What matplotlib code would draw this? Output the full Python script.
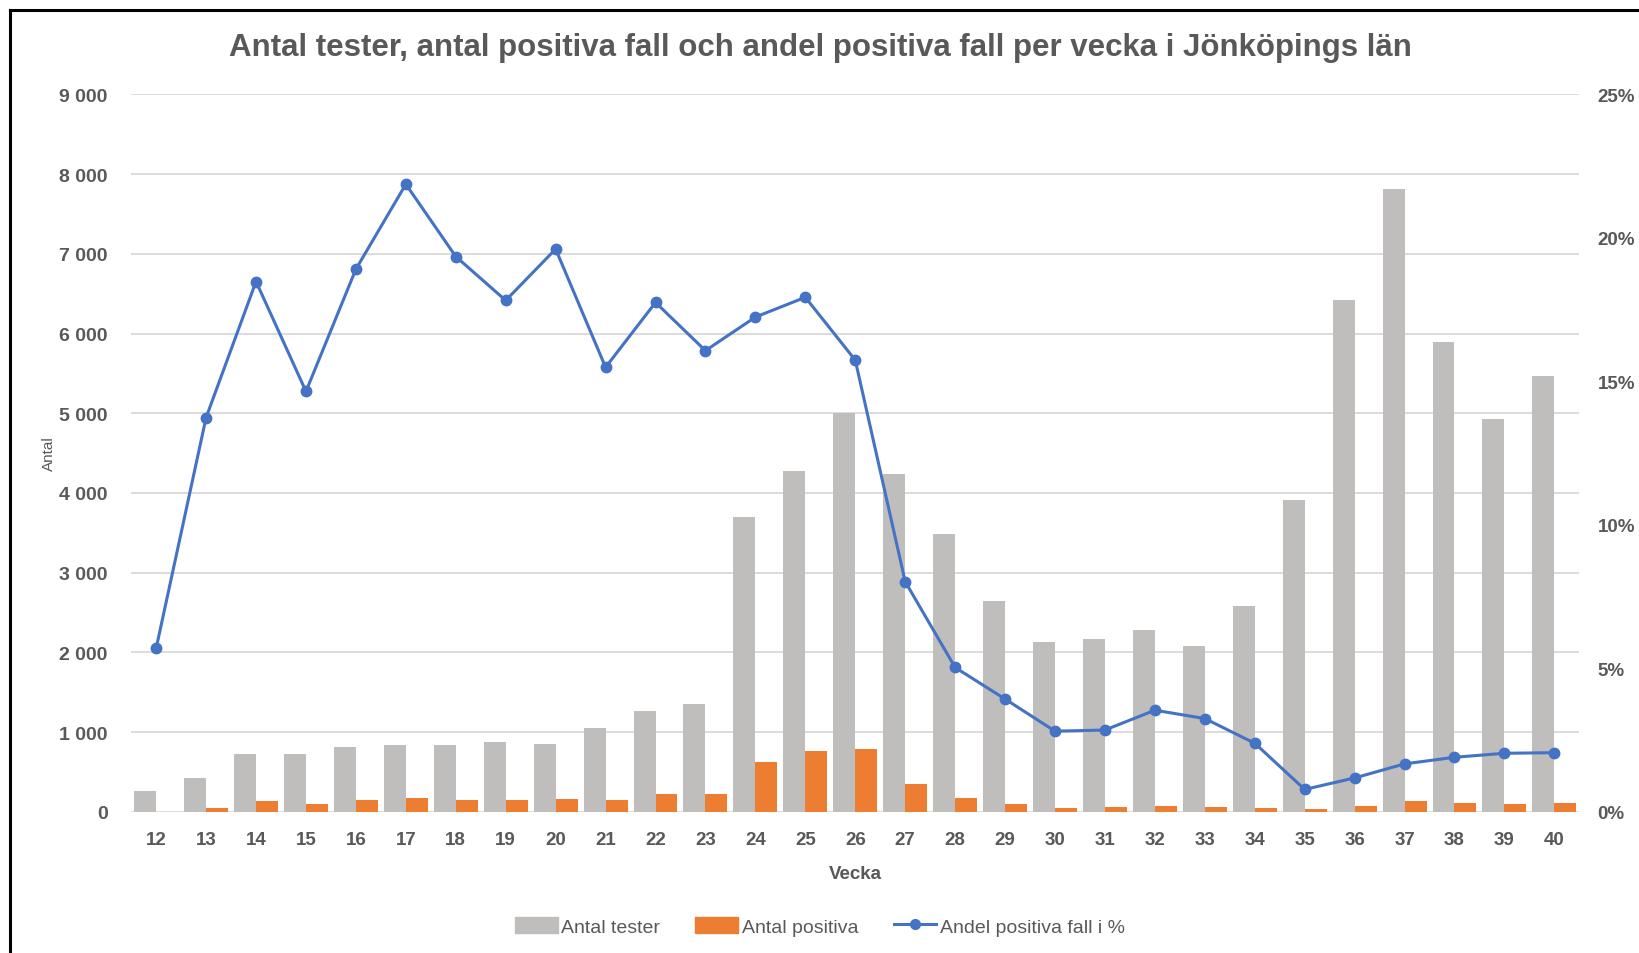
import matplotlib.pyplot as plt
import matplotlib as mpl
import numpy as np
from matplotlib.lines import Line2D
from matplotlib.patches import Patch

mpl.rcParams['font.family'] = 'Liberation Sans'

# Data
veckor = [12, 13, 14, 15, 16, 17, 18, 19, 20, 21, 22, 23, 24, 25, 26,
          27, 28, 29, 30, 31, 32, 33, 34, 35, 36, 37, 38, 39, 40]
antal_tester = [260, 420, 720, 720, 810, 840, 840, 880, 850, 1050, 1260, 1350,
                3700, 4280, 5000, 4240, 3490, 2650, 2125, 2170, 2280, 2075,
                2580, 3910, 6420, 7810, 5890, 4930, 5470]
antal_positiva = [0, 50, 130, 97, 151, 176, 151, 151, 164, 151, 218, 218,
                  630, 760, 786, 345, 176, 97, 50, 63, 76, 63, 50, 29,
                  71, 130, 109, 97, 109]
andel_positiva = [5.7, 13.74, 18.48, 14.65, 18.91, 21.87, 19.35, 17.82, 19.61,
                  15.49, 17.75, 16.07, 17.24, 17.93, 15.74, 8.02, 5.03, 3.93,
                  2.81, 2.85, 3.54, 3.25, 2.39, 0.78, 1.18, 1.67, 1.90, 2.04, 2.06]

grey = '#BFBEBC'
orange = '#ED7D31'
blue = '#4472C4'
txt = '#595959'
gridc = '#D9D9D9'

fig = plt.figure(figsize=(16.4, 9.54), dpi=100)
ax = fig.add_axes([0.080, 0.148, 0.883, 0.752])
ax2 = ax.twinx()

x = np.arange(len(veckor))
w = 0.44
ax.bar(x - w / 2, antal_tester, width=w, color=grey, zorder=2)
ax.bar(x + w / 2, antal_positiva, width=w, color=orange, zorder=2)
ax2.plot(x, andel_positiva, color=blue, lw=2.2, marker='o', ms=7.5, zorder=3)

ax.set_xlim(-0.5, len(veckor) - 0.5)
ax.set_ylim(0, 9000)
ax2.set_ylim(0, 25)

ax.set_yticks(np.arange(0, 9001, 1000))
ax.set_yticklabels([f'{v:,}'.replace(',', ' ') for v in range(0, 9001, 1000)])
ax2.set_yticks(np.arange(0, 26, 5))
ax2.set_yticklabels([f'{v}%' for v in range(0, 26, 5)])
ax.set_xticks(x)
ax.set_xticklabels([str(v) for v in veckor])

ax.grid(axis='y', color=gridc, lw=1.3, zorder=0)
ax.set_axisbelow(True)
for a in (ax, ax2):
    for s in a.spines.values():
        s.set_visible(False)
    a.tick_params(length=0, colors=txt, labelsize=14)
    for lab in a.get_xticklabels() + a.get_yticklabels():
        lab.set_fontweight('bold')
ax.tick_params(axis='x', labelsize=13.5, pad=14)
ax.tick_params(axis='y', pad=17)
ax2.tick_params(axis='y', labelsize=13.5, pad=13)

ax.set_xlabel('Vecka', fontsize=13.5, fontweight='bold', color=txt, labelpad=12)
ax.set_ylabel('Antal', fontsize=11, color=txt)
ax.yaxis.set_label_coords(-0.052, 0.5)

fig.text(0.5, 0.950, 'Antal tester, antal positiva fall och andel positiva fall per vecka i Jönköpings län',
         ha='center', va='center', fontsize=22.5, fontweight='bold', color=txt)

handles = [Patch(color=grey), Patch(color=orange),
           Line2D([], [], color=blue, lw=2.2, marker='o', ms=7)]
fig.legend(handles, ['Antal tester', 'Antal positiva', 'Andel positiva fall i %'],
           loc='center', bbox_to_anchor=(0.5, 0.028), ncol=3, frameon=False,
           fontsize=14, labelcolor=txt, handlelength=2.2, handleheight=0.9,
           handletextpad=0.2, columnspacing=1.8)

# thin black frame of the screenshot
fig.add_artist(Line2D([10 / 1640, 10 / 1640], [0, 1 - 11 / 954], transform=fig.transFigure,
                      color='black', lw=2.2))
fig.add_artist(Line2D([10 / 1640, 1], [1 - 11 / 954, 1 - 11 / 954], transform=fig.transFigure,
                      color='black', lw=2.2))

plt.savefig('out.png', dpi=100)
